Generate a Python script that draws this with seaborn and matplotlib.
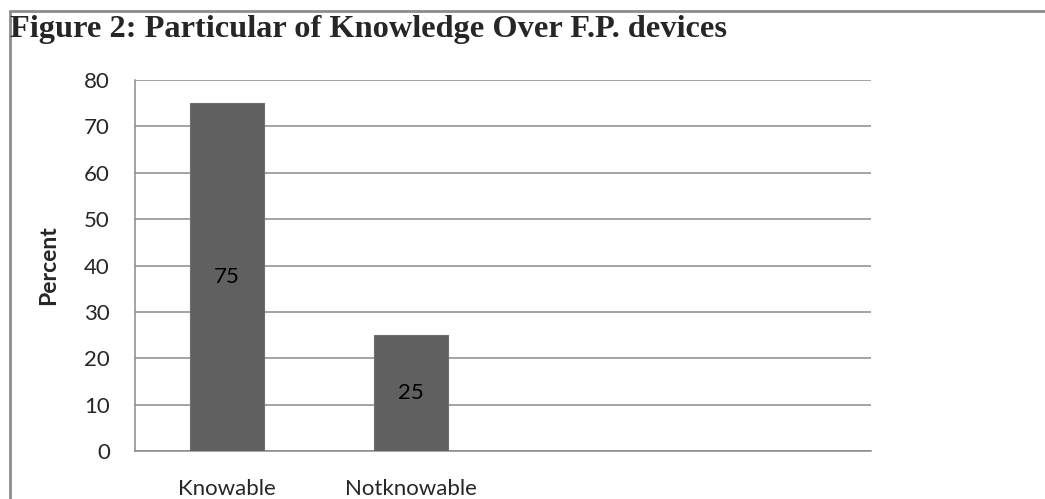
import matplotlib
matplotlib.use("Agg")
import matplotlib.pyplot as plt
import seaborn as sns
from matplotlib.lines import Line2D

# === DADOS ===
categorias = ["Knowable", "Notknowable"]
percentuais = [75, 25]
n_slots = 4  # o gráfico original reserva 4 posições no eixo x
y_ticks = [0, 10, 20, 30, 40, 50, 60, 70, 80]

# === ESTILO ===
sns.set_style("white")
plt.rcParams["font.family"] = ["Lato", "DejaVu Sans"]

cinza_grade = "#8a8a8a"
cor_barra = "#606060"

fig = plt.figure(figsize=(10.45, 4.99), dpi=100)
ax = fig.add_axes([135 / 1045, 1 - 451 / 499, (871 - 135) / 1045, (451 - 80) / 499])

sns.barplot(x=categorias, y=percentuais, color=cor_barra, width=0.4,
            edgecolor="#6e6e6e", linewidth=0.8, saturation=1, ax=ax, zorder=3)

ax.set_xlim(-0.5, n_slots - 0.5)
ax.set_ylim(0, 80)
ax.set_yticks(y_ticks)
ax.yaxis.grid(True, color=cinza_grade, linewidth=1.1, zorder=0)
ax.set_axisbelow(True)

for c in ax.containers:
    ax.bar_label(c, label_type="center", fontsize=16, color="black")

# ticks x: marcas nas fronteiras, rótulos no centro
ax.set_xticks(range(len(categorias)))
ax.set_xticklabels(categorias, fontsize=16)
ax.set_xticks([i - 0.5 for i in range(n_slots + 1)], minor=True)
ax.tick_params(axis="x", which="major", length=0, pad=20)
ax.tick_params(axis="x", which="minor", length=8, width=1.1, color=cinza_grade, direction="out")
ax.tick_params(axis="y", length=8, width=1.1, color=cinza_grade, direction="out", labelsize=16, pad=10)

for lado in ["top", "right"]:
    ax.spines[lado].set_visible(False)
for lado in ["left", "bottom"]:
    ax.spines[lado].set_color(cinza_grade)
    ax.spines[lado].set_linewidth(1.1)

ax.set_xlabel("")
ax.set_ylabel("Percent", fontsize=16.5, fontweight="bold", labelpad=18)

# === TÍTULO E MOLDURA ===
fig.text(10 / 1045, 1 - 29 / 499, "Figure 2: Particular of Knowledge Over F.P. devices",
         fontsize=23.3, fontweight="bold", family=["Liberation Serif", "DejaVu Serif"],
         va="center", ha="left")
fig.add_artist(Line2D([10 / 1045, 1], [1 - 11 / 499, 1 - 11 / 499], color="#8c8c8c", linewidth=2))
fig.add_artist(Line2D([10 / 1045, 10 / 1045], [0, 1 - 11 / 499], color="#8c8c8c", linewidth=2))

fig.savefig("out.png", dpi=100)
